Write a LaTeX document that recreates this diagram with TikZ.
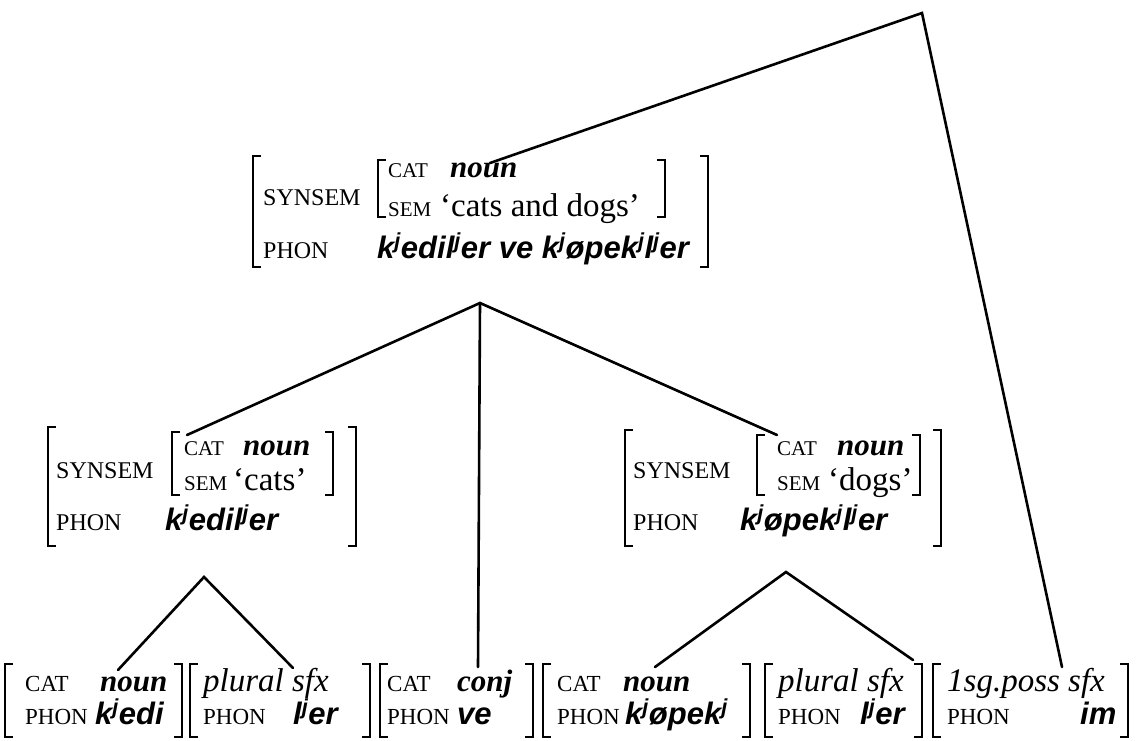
\documentclass[tikz,border=0pt]{standalone}
\usepackage{fontspec}
\setmainfont{Liberation Serif}
\newfontfamily\phonsans{Liberation Sans}
\newcommand\pj{\textsuperscript{j}}
\newcommand\avmbrk[4]{%
  \draw[brk] (#1+8,#3) -- (#1,#3) -- (#1,#4) -- (#1+8,#4);
  \draw[brk] (#2-8,#3) -- (#2,#3) -- (#2,#4) -- (#2-8,#4);}
\begin{document}
\begin{tikzpicture}[x=1pt,y=-1pt,
  lbl/.style={anchor=base west,inner sep=0pt,font=\fontsize{24}{26}\selectfont},
  ilbl/.style={anchor=base west,inner sep=0pt,font=\fontsize{21}{23}\selectfont},
  blbl/.style={anchor=base west,inner sep=0pt,font=\fontsize{23}{25}\selectfont},
  val/.style={anchor=base west,inner sep=0pt,font=\fontsize{33}{35}\selectfont\itshape},
  bval/.style={anchor=base west,inner sep=0pt,font=\fontsize{31}{33}\selectfont\bfseries\itshape},
  txt/.style={anchor=base west,inner sep=0pt,font=\fontsize{33}{35}\selectfont},
  phn/.style={anchor=base west,inner sep=0pt,font=\fontsize{31}{33}\selectfont\phonsans\bfseries\itshape},
  brk/.style={line width=2pt,line cap=butt,line join=miter},
  edge/.style={line width=2.6pt,line cap=round}]
\useasboundingbox (0,0) rectangle (1136,740);

% ---------- top AVM ----------
\avmbrk{253}{708}{156}{267}
\avmbrk{378}{665}{160}{217}
\node[lbl] (tsyn) at (263,205) {SYNSEM};
\node[ilbl] (tcat) at (388,177) {CAT};
\node[bval] (tnoun) at (450,177) {noun};
\node[ilbl] (tsem) at (388,216) {SEM};
\node[txt] (tsemv) at (440,216) {‘cats and dogs’};
\node[lbl] (tphon) at (263,258) {PHON};
\node[phn] (tphonv) at (377,258) {k\pj edil\pj er ve k\pj øpek\pj l\pj er};

% ---------- middle left AVM ----------
\avmbrk{48}{356}{427}{546}
\avmbrk{172}{333}{432}{495}
\node[lbl] (lsyn) at (56,478) {SYNSEM};
\node[ilbl] (lcat) at (184,455) {CAT};
\node[bval] (lnoun) at (243,455) {noun};
\node[ilbl] (lsem) at (184,490) {SEM};
\node[txt] (lsemv) at (233,490) {‘cats’};
\node[lbl] (lphon) at (56,530) {PHON};
\node[phn] (lphonv) at (165,530) {k\pj edil\pj er};

% ---------- middle right AVM ----------
\avmbrk{625}{941}{430}{546}
\avmbrk{757}{920}{435}{495}
\node[lbl] (rsyn) at (633,478) {SYNSEM};
\node[ilbl] (rcat) at (777,455) {CAT};
\node[bval] (rnoun) at (837,455) {noun};
\node[ilbl] (rsem) at (777,490) {SEM};
\node[txt] (rsemv) at (828,490) {‘dogs’};
\node[lbl] (rphon) at (633,530) {PHON};
\node[phn] (rphonv) at (740,530) {k\pj øpek\pj l\pj er};

% ---------- bottom row ----------
\avmbrk{5}{182}{664}{737}
\node[blbl] (b1cat) at (25,691) {CAT};
\node[bval] (b1v) at (100,691) {noun};
\node[blbl] (b1phon) at (25,724) {PHON};
\node[phn] (b1p) at (95,724) {k\pj edi};

\avmbrk{190}{370}{664}{737}
\node[val] (b2v) at (203,691) {plural sfx};
\node[blbl] (b2phon) at (203,724) {PHON};
\node[phn] (b2p) at (293,724) {l\pj er};

\avmbrk{380}{533}{664}{737}
\node[blbl] (b3cat) at (387,691) {CAT};
\node[bval] (b3v) at (457,691) {conj};
\node[blbl] (b3phon) at (387,724) {PHON};
\node[phn] (b3p) at (457,724) {ve};

\avmbrk{543}{750}{664}{737}
\node[blbl] (b4cat) at (557,691) {CAT};
\node[bval] (b4v) at (623,691) {noun};
\node[blbl] (b4phon) at (557,724) {PHON};
\node[phn] (b4p) at (625,724) {k\pj øpek\pj};

\avmbrk{765}{922}{664}{737}
\node[val] (b5v) at (778,691) {plural sfx};
\node[blbl] (b5phon) at (778,724) {PHON};
\node[phn] (b5p) at (860,724) {l\pj er};

\avmbrk{933}{1128}{664}{737}
\node[val] (b6v) at (947,691) {1sg.poss sfx};
\node[blbl] (b6phon) at (947,724) {PHON};
\node[phn] (b6p) at (1080,724) {im};

% ---------- tree junctions and attachment points ----------
\coordinate (root) at (922,13);
\coordinate (mid) at (480,303);
\coordinate (lapex) at (204,577);
\coordinate (rapex) at (786,572);
\coordinate (tin) at (490,163);
\coordinate (lin) at (187,435);
\coordinate (rin) at (777,435);
\coordinate (b1in) at (118,670);
\coordinate (b2in) at (293,668);
\coordinate (b3in) at (478,667);
\coordinate (b4in) at (655,667);
\coordinate (b5in) at (913,660);
\coordinate (b6in) at (1062,667);

\draw[edge] (tin) -- (root) -- (b6in);
\draw[edge] (lin) -- (mid) -- (rin);
\draw[edge] (mid) -- (b3in);
\draw[edge] (b1in) -- (lapex) -- (b2in);
\draw[edge] (b4in) -- (rapex) -- (b5in);
\end{tikzpicture}
\end{document}
